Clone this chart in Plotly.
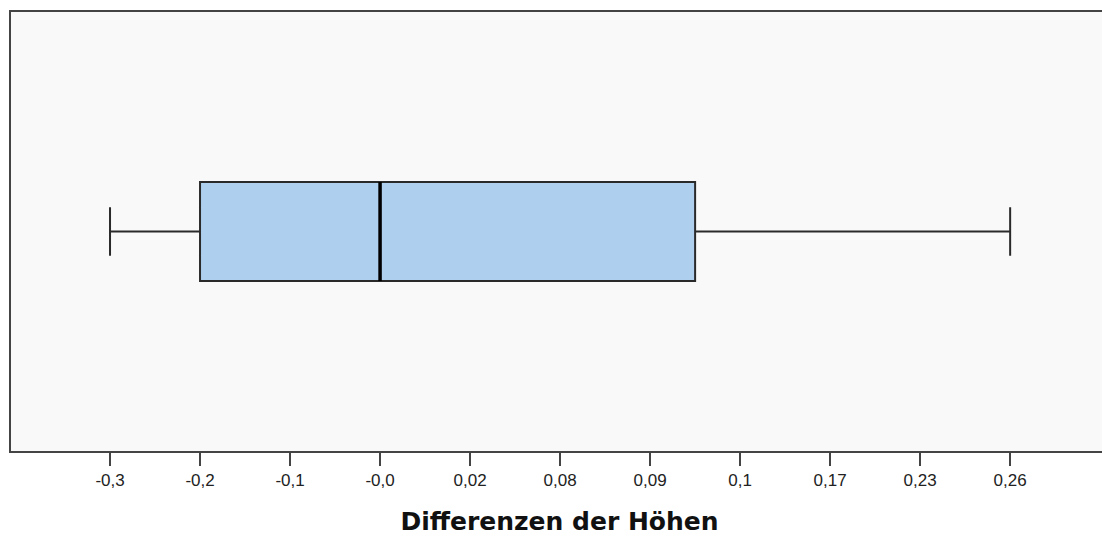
import plotly.graph_objects as go

# Axis categories (SPSS-style ordinal tick labels, evenly spaced)
tick_labels = ["-0,3", "-0,2", "-0,1", "-0,0", "0,02", "0,08", "0,09", "0,1", "0,17", "0,23", "0,26"]
tick_positions = list(range(len(tick_labels)))

# Box statistics expressed on the rank scale of the axis
lower_whisker = [0]
q1 = [1]
median = [3]
q3 = [6.5]
upper_whisker = [10]

box_width = 0.451

fig = go.Figure()
fig.add_trace(go.Box(
    y=[0], orientation="h",
    q1=q1, median=median, q3=q3,
    lowerfence=lower_whisker, upperfence=upper_whisker,
    width=box_width, whiskerwidth=0.49,
    fillcolor="#AED0EE",
    line=dict(color="#2a2a2a", width=2),
    boxpoints=False, hoverinfo="skip", showlegend=False,
))
# thick median line
fig.add_trace(go.Scatter(
    x=[median[0], median[0]], y=[-box_width / 2, box_width / 2],
    mode="lines", line=dict(color="#000000", width=3.5),
    hoverinfo="skip", showlegend=False,
))

fig.update_layout(
    width=1108, height=536,
    margin=dict(l=11, r=0, t=12, b=85),
    paper_bgcolor="white", plot_bgcolor="#F9F9F9",
    font=dict(family="Liberation Sans, Arial, sans-serif", color="#222222"),
    xaxis=dict(
        range=[-1.1, 11.087],
        tickmode="array", tickvals=tick_positions, ticktext=tick_labels,
        ticks="outside", ticklen=13, tickwidth=2, tickcolor="#444444",
        tickfont=dict(size=17, color="#222222"),
        showgrid=False, zeroline=False,
        showline=True, linecolor="#444444", linewidth=2, mirror=True,
        title=dict(text="<b>Differenzen der Höhen</b>",
                   font=dict(size=25, family="DejaVu Sans, sans-serif", color="#111111"),
                   standoff=24),
    ),
    yaxis=dict(
        range=[-1, 1], showticklabels=False, showgrid=False, zeroline=False,
        showline=True, linecolor="#444444", linewidth=2, ticks="",
    ),
)

fig.write_html(
    "out.html",
    config={"displayModeBar": False},
    post_script="document.body.style.margin='0px'; document.body.style.overflow='hidden';",
)
